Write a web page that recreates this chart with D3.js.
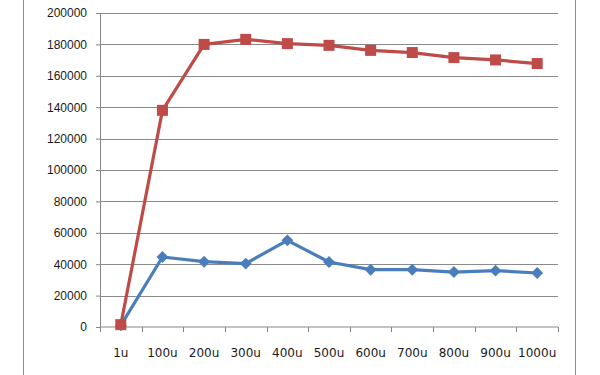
<!DOCTYPE html>
<html>
<head>
<meta charset="utf-8">
<script src="https://cdn.jsdelivr.net/npm/d3@7"></script>
<style>
	body { margin: 0; background: #fff; }
	svg { display: block; font-family: "DejaVu Sans", Verdana, sans-serif; }
</style>
</head>
<body>
<svg width="600" height="375"></svg>
<script>
// categories along the x axis
var categories = ["1u", "100u", "200u", "300u", "400u", "500u", "600u", "700u", "800u", "900u", "1000u"]

// red series (squares)
var redValues = [1500, 138000, 180000, 183200, 180500, 179400, 176200, 174800, 171600, 170100, 167800]
// blue series (diamonds)
var blueValues = [1000, 44600, 41600, 40400, 55200, 41400, 36500, 36500, 35000, 35900, 34400]

var yTicks = [0, 20000, 40000, 60000, 80000, 100000, 120000, 140000, 160000, 180000, 200000]

var svg = d3.select("svg")
var svgWidth = +svg.attr("width")
var svgHeight = +svg.attr("height")

var padding = {t: 13, r: 42, b: 48, l: 100}

// outer chart frame (only the sides show in the crop)
svg.append("line")
	.attr("x1", 23.5).attr("x2", 23.5)
	.attr("y1", 0).attr("y2", svgHeight)
	.attr("stroke", "#8c8c8c")
svg.append("line")
	.attr("x1", 575.5).attr("x2", 575.5)
	.attr("y1", 0).attr("y2", svgHeight)
	.attr("stroke", "#8c8c8c")

var x = d3.scaleBand()
	.domain(categories)
	.range([padding.l, svgWidth - padding.r])

var y = d3.scaleLinear()
	.domain([0, 200000])
	.range([svgHeight - padding.b, padding.t])

// gridlines + y axis
var yAxis = svg.append("g")
	.attr("transform", "translate(" + padding.l + ",0)")
	.call(d3.axisLeft(y)
		.tickValues(yTicks)
		.tickSize(4)
		.tickPadding(9)
		.tickFormat(d3.format("d")))
yAxis.select(".domain").attr("stroke", "#868686")
yAxis.selectAll(".tick line").attr("stroke", "#868686")
yAxis.selectAll(".tick text")
	.attr("fill", "#1a1a1a")
	.style("font-size", "12px")

svg.append("g")
	.selectAll("line")
	.data(yTicks.filter(function(d) { return d > 0 }))
	.join("line")
	.attr("x1", padding.l)
	.attr("x2", svgWidth - padding.r)
	.attr("y1", function(d) { return Math.round(y(d)) + 0.5 })
	.attr("y2", function(d) { return Math.round(y(d)) + 0.5 })
	.attr("stroke", "#8a8a8a")

// x axis: ticks at category boundaries
var xAxisY = y(0)
var bounds = categories.map(function(c) { return x(c) }).concat([x(categories[categories.length - 1]) + x.bandwidth()])

svg.append("line")
	.attr("x1", padding.l)
	.attr("x2", svgWidth - padding.r)
	.attr("y1", xAxisY)
	.attr("y2", xAxisY)
	.attr("stroke", "#868686")

svg.append("g")
	.selectAll("line")
	.data(bounds)
	.join("line")
	.attr("x1", function(d) { return Math.round(d) + 0.5 })
	.attr("x2", function(d) { return Math.round(d) + 0.5 })
	.attr("y1", xAxisY)
	.attr("y2", xAxisY + 5)
	.attr("stroke", "#868686")

svg.append("g")
	.selectAll("text")
	.data(categories)
	.join("text")
	.attr("x", function(d) { return x(d) + x.bandwidth() / 2 })
	.attr("y", xAxisY + 30)
	.attr("text-anchor", "middle")
	.attr("fill", "#1a1a1a")
	.style("font-size", "12px")
	.text(function(d) { return d })

var line = d3.line()
	.x(function(d, i) { return x(categories[i]) + x.bandwidth() / 2 })
	.y(function(d) { return y(d) })

// blue line + diamonds
svg.append("path")
	.datum(blueValues)
	.attr("d", line)
	.attr("fill", "none")
	.attr("stroke", "#4a7ebb")
	.attr("stroke-width", 3.2)
	.attr("stroke-linejoin", "round")

svg.append("g")
	.selectAll("path")
	.data(blueValues)
	.join("path")
	.attr("d", d3.symbol().type(d3.symbolDiamond2).size(90))
	.attr("transform", function(d, i) {
		return "translate(" + (x(categories[i]) + x.bandwidth() / 2) + "," + y(d) + ")"
	})
	.attr("fill", "#4a7ebb")

// red line + squares
svg.append("path")
	.datum(redValues)
	.attr("d", line)
	.attr("fill", "none")
	.attr("stroke", "#be4b48")
	.attr("stroke-width", 3.2)
	.attr("stroke-linejoin", "round")

svg.append("g")
	.selectAll("rect")
	.data(redValues)
	.join("rect")
	.attr("x", function(d, i) { return x(categories[i]) + x.bandwidth() / 2 - 5.5 })
	.attr("y", function(d) { return y(d) - 5.5 })
	.attr("width", 11)
	.attr("height", 11)
	.attr("fill", "#be4b48")
</script>
</body>
</html>
